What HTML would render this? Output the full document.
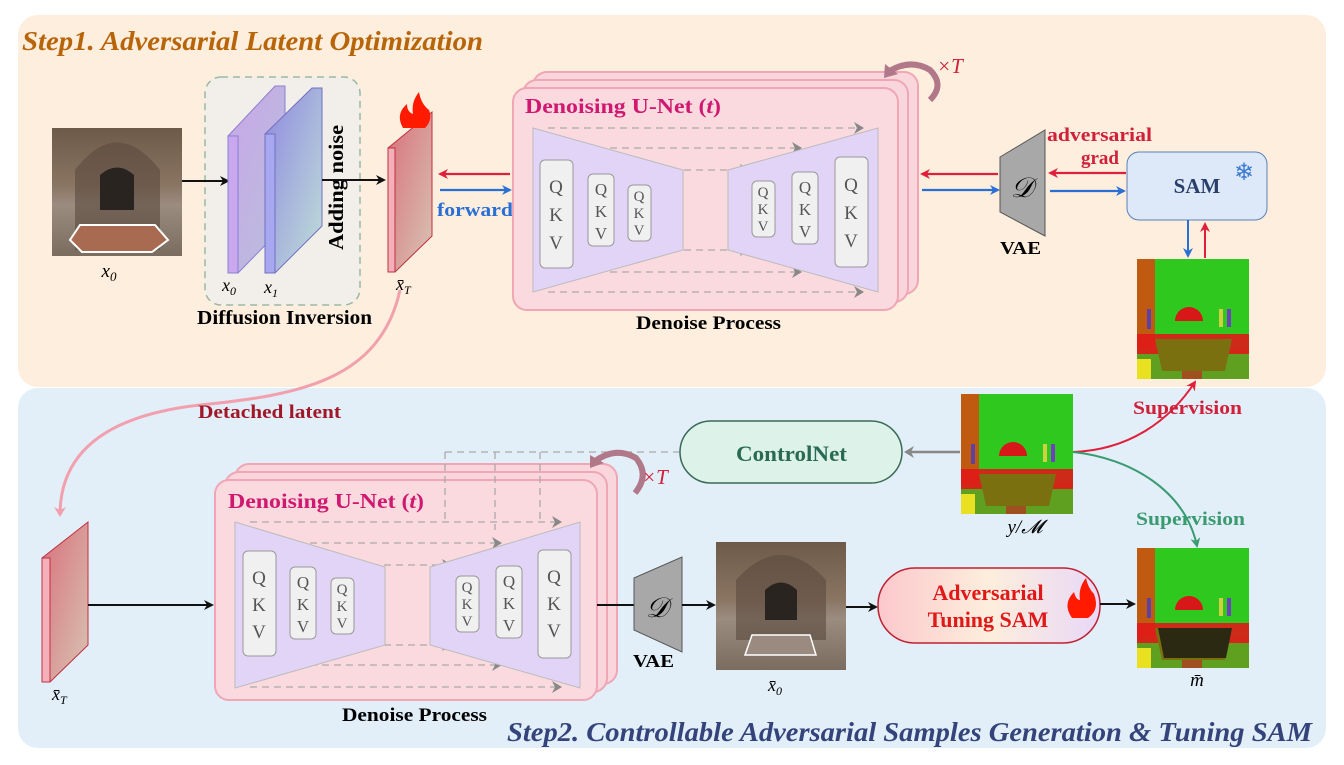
<!DOCTYPE html>
<html><head><meta charset="utf-8"><style>
body{margin:0;background:#fff}
svg{display:block;font-family:"Liberation Serif",serif}
</style></head><body>
<svg width="1344" height="765" viewBox="0 0 1344 765" xmlns="http://www.w3.org/2000/svg">
<defs>
<marker id="ak" markerWidth="10" markerHeight="10" refX="8" refY="5" orient="auto" markerUnits="userSpaceOnUse"><path d="M0,0 L10,5 L0,10 L3,5z" fill="#111"/></marker>
<marker id="ar" markerWidth="10" markerHeight="10" refX="8" refY="5" orient="auto" markerUnits="userSpaceOnUse"><path d="M0,0 L10,5 L0,10 L3,5z" fill="#e0203a"/></marker>
<marker id="ab" markerWidth="10" markerHeight="10" refX="8" refY="5" orient="auto" markerUnits="userSpaceOnUse"><path d="M0,0 L10,5 L0,10 L3,5z" fill="#2a6fd6"/></marker>
<marker id="ag" markerWidth="10" markerHeight="10" refX="8" refY="5" orient="auto" markerUnits="userSpaceOnUse"><path d="M0,0 L10,5 L0,10 L3,5z" fill="#3a9a70"/></marker>
<marker id="agr" markerWidth="12" markerHeight="12" refX="8" refY="6" orient="auto" markerUnits="userSpaceOnUse"><path d="M0,0 L10,6 L0,12 L3,6z" fill="#888"/></marker>
<marker id="ap" markerWidth="12" markerHeight="12" refX="8" refY="6" orient="auto" markerUnits="userSpaceOnUse"><path d="M0,0 L10,6 L0,12 L3,6z" fill="#f2a0ae"/></marker>
<linearGradient id="photo" x1="0" y1="0" x2="0" y2="1"><stop offset="0" stop-color="#6e5a48"/><stop offset=".45" stop-color="#8a7563"/><stop offset=".6" stop-color="#9b8c80"/><stop offset="1" stop-color="#7b6c60"/></linearGradient>
<linearGradient id="red" x1="0" y1="0" x2="1" y2="1"><stop offset="0" stop-color="#d9707a"/><stop offset="1" stop-color="#d8c4b4"/></linearGradient>
<linearGradient id="purp" x1="0" y1="0" x2="1" y2="1"><stop offset="0" stop-color="#c9a6e8"/><stop offset="1" stop-color="#b8c0dc"/></linearGradient>
<linearGradient id="blu" x1="0" y1="0" x2="1" y2="1"><stop offset="0" stop-color="#8f88e0"/><stop offset="1" stop-color="#bfe0d8"/></linearGradient>
<linearGradient id="adv" x1="0" y1="0" x2="1" y2="0"><stop offset="0" stop-color="#fcc8cc"/><stop offset=".5" stop-color="#fdeedc"/><stop offset="1" stop-color="#e8d8f8"/></linearGradient>
<g id="seg">
<rect width="112" height="120" fill="#2ec81e"/>
<rect width="18" height="120" fill="#c05a10"/>
<rect x="0" y="90" width="112" height="30" fill="#60a020"/>
<path d="M0,75 L112,75 L112,95 L0,95z" fill="#e01818" opacity=".9"/>
<path d="M18,80 L95,80 L88,112 L25,112z" fill="#7a7010"/>
<rect x="45" y="112" width="20" height="8" fill="#a05020"/>
<path d="M38,62 a14,14 0 0 1 28,0z" fill="#d81818"/>
<rect x="10" y="50" width="4" height="20" fill="#6040a0"/><rect x="82" y="50" width="4" height="18" fill="#d0d040"/><rect x="90" y="50" width="4" height="18" fill="#7040c0"/>
<rect x="0" y="100" width="14" height="20" fill="#e8e020"/>
</g>
</defs>

<rect x="18" y="15" width="1308" height="372" rx="20" fill="#fdeedd"/>
<rect x="18" y="388" width="1308" height="360" rx="20" fill="#e2eff9"/>

<text x="22" y="50" font-size="27" font-style="italic" font-weight="bold" fill="#b8650a" textLength="461" lengthAdjust="spacingAndGlyphs">Step1. Adversarial Latent Optimization</text>
<text x="507" y="741" font-size="27" font-style="italic" font-weight="bold" fill="#34447a" textLength="805" lengthAdjust="spacingAndGlyphs">Step2. Controllable Adversarial Samples Generation &amp; Tuning SAM</text>

<!-- x0 photo -->
<rect x="52" y="128" width="130" height="128" fill="url(#photo)"/>
<path d="M75,250 L75,170 Q117,115 160,170 L160,250z" fill="#5a4a3e" opacity=".6"/>
<path d="M100,210 L100,175 Q117,160 134,175 L134,210z" fill="#2a2420"/>
<path d="M80,225 L155,225 L168,240 L152,252 L82,252 L70,240z" fill="#a86a50" stroke="#fff" stroke-width="2"/>
<text x="109" y="277" font-size="19" font-style="italic" text-anchor="middle">x<tspan font-size="13" dy="4">0</tspan></text>

<!-- diffusion inversion -->
<rect x="205" y="77" width="155" height="228" rx="16" fill="#f2efea" stroke="#9ab8a4" stroke-width="1.5" stroke-dasharray="7,5"/>
<line x1="182" y1="181" x2="228" y2="181" stroke="#111" stroke-width="2" marker-end="url(#ak)"/>
<path d="M228,136 L275,86 L285,86 L285,225 L238,273 L228,273z" fill="url(#purp)" stroke="#8a80d0"/>
<rect x="228" y="136" width="10" height="137" fill="#caa8ef" stroke="#8a80d0"/>
<path d="M265,134 L312,88 L322,88 L322,226 L275,273 L265,273z" fill="url(#blu)" stroke="#7070c0"/>
<rect x="265" y="134" width="10" height="139" fill="#a8a8f0" stroke="#7070c0"/>
<text x="222" y="291" font-size="18" font-style="italic">x<tspan font-size="12" dy="4">0</tspan></text>
<text x="264" y="293" font-size="18" font-style="italic">x<tspan font-size="12" dy="4">1</tspan></text>
<text x="343" y="250" font-size="21" font-weight="bold" transform="rotate(-90 343 250)" textLength="125" lengthAdjust="spacingAndGlyphs">Adding noise</text>
<line x1="322" y1="180" x2="384" y2="180" stroke="#111" stroke-width="2" marker-end="url(#ak)"/>
<text x="197" y="324" font-size="20" font-weight="bold" textLength="175" lengthAdjust="spacingAndGlyphs">Diffusion Inversion</text>

<!-- xT top -->
<path d="M388,148 L432,112 L432,236 L395,272 L388,272z" fill="url(#red)" stroke="#c03040"/>
<rect x="388" y="148" width="7" height="124" fill="#f4b0b8" stroke="#c03040"/>
<path d="M403,128 q-8,-14 4,-24 q0,8 6,10 q-2,-12 6,-22 q2,12 10,18 q4,10 -4,18z" fill="#ff1a00"/>
<text x="396" y="290" font-size="18" font-style="italic">x̄<tspan font-size="12" dy="4">T</tspan></text>

<line x1="510" y1="174" x2="440" y2="174" stroke="#e0203a" stroke-width="2.2" marker-end="url(#ar)"/>
<line x1="440" y1="190" x2="510" y2="190" stroke="#2a6fd6" stroke-width="2.2" marker-end="url(#ab)"/>
<text x="437" y="216" font-size="19" font-weight="bold" fill="#2a6fd6" textLength="76" lengthAdjust="spacingAndGlyphs">forward</text>

<!-- top U-Net -->
<g>
<rect x="533" y="72" width="385" height="222" rx="14" fill="#f9d6dc" stroke="#f0a6b4" stroke-width="2"/>
<rect x="523" y="80" width="385" height="222" rx="14" fill="#f9d6dc" stroke="#f0a6b4" stroke-width="2"/>
<rect x="513" y="88" width="385" height="222" rx="14" fill="#fadadf" stroke="#f0a6b4" stroke-width="2"/>
<text x="525" y="113" font-size="21" font-weight="bold" fill="#d01870" textLength="196" lengthAdjust="spacingAndGlyphs">Denoising U-Net (<tspan font-style="italic">t</tspan>)</text>
<g stroke="#aaa" stroke-width="1.3" stroke-dasharray="7,5" fill="none">
<line x1="548" y1="128" x2="862" y2="128" marker-end="url(#agr)"/>
<line x1="610" y1="148" x2="800" y2="148" marker-end="url(#agr)"/>
<line x1="660" y1="170" x2="748" y2="170" marker-end="url(#agr)"/>
<line x1="660" y1="250" x2="748" y2="250" marker-end="url(#agr)"/>
<line x1="610" y1="272" x2="800" y2="272" marker-end="url(#agr)"/>
<line x1="548" y1="292" x2="862" y2="292" marker-end="url(#agr)"/>
</g>
<path d="M533,128 L683,170 L683,250 L533,292z" fill="#e2d4f6" stroke="#bbb"/>
<path d="M728,170 L878,128 L878,292 L728,250z" fill="#e2d4f6" stroke="#bbb"/>
<g fill="#f0f0f0" stroke="#999">
<rect x="540" y="160" width="33" height="108" rx="5"/>
<rect x="588" y="174" width="26" height="72" rx="5"/>
<rect x="628" y="185" width="23" height="56" rx="5"/>
<rect x="752" y="181" width="23" height="56" rx="5"/>
<rect x="792" y="172" width="26" height="72" rx="5"/>
<rect x="835" y="157" width="33" height="110" rx="5"/>
</g>
<g fill="#555" text-anchor="middle">
<g font-size="19"><text x="556" y="193">Q</text><text x="556" y="221">K</text><text x="556" y="249">V</text></g>
<g font-size="17"><text x="601" y="195">Q</text><text x="601" y="217">K</text><text x="601" y="239">V</text></g>
<g font-size="15"><text x="639" y="201">Q</text><text x="639" y="218">K</text><text x="639" y="235">V</text></g>
<g font-size="15"><text x="763" y="197">Q</text><text x="763" y="214">K</text><text x="763" y="231">V</text></g>
<g font-size="17"><text x="805" y="193">Q</text><text x="805" y="215">K</text><text x="805" y="237">V</text></g>
<g font-size="19"><text x="851" y="191">Q</text><text x="851" y="219">K</text><text x="851" y="247">V</text></g>
</g>
</g>
<text x="636" y="329" font-size="19" font-weight="bold" textLength="145" lengthAdjust="spacingAndGlyphs">Denoise Process</text>
<path d="M888,72 Q910,58 930,70 Q945,85 930,100" fill="none" stroke="#b07888" stroke-width="6"/>
<path d="M885,64 L898,74 L884,78z" fill="#b07888"/>
<text x="937" y="73" font-size="21" font-style="italic" fill="#d0203a">×T</text>

<!-- VAE top -->
<line x1="998" y1="174" x2="922" y2="174" stroke="#e0203a" stroke-width="2.2" marker-end="url(#ar)"/>
<line x1="922" y1="190" x2="998" y2="190" stroke="#2a6fd6" stroke-width="2.2" marker-end="url(#ab)"/>
<path d="M1000,157 L1045,130 L1045,236 L1000,212z" fill="#a8a8a8" stroke="#555"/>
<text x="1022" y="197" font-size="28" font-style="italic" text-anchor="middle">𝒟</text>
<text x="1000" y="254" font-size="18" font-weight="bold" textLength="41" lengthAdjust="spacingAndGlyphs">VAE</text>
<line x1="1126" y1="173" x2="1050" y2="173" stroke="#e0203a" stroke-width="2.2" marker-end="url(#ar)"/>
<line x1="1050" y1="191" x2="1124" y2="191" stroke="#2a6fd6" stroke-width="2.2" marker-end="url(#ab)"/>
<text x="1047" y="141" font-size="19" font-weight="bold" fill="#d0203a" textLength="105" lengthAdjust="spacingAndGlyphs">adversarial</text>
<text x="1100" y="164" font-size="19" font-weight="bold" fill="#d0203a" text-anchor="middle">grad</text>
<rect x="1127" y="152" width="140" height="68" rx="12" fill="#dde8f8" stroke="#5a80b8"/>
<text x="1197" y="193" font-size="21" font-weight="bold" fill="#2a3e6a" text-anchor="middle">SAM</text>
<text x="1244" y="180" font-size="24" fill="#3a7ad0" text-anchor="middle">❄</text>
<line x1="1188" y1="220" x2="1188" y2="256" stroke="#2a6fd6" stroke-width="2" marker-end="url(#ab)"/>
<line x1="1205" y1="258" x2="1205" y2="224" stroke="#e0203a" stroke-width="2" marker-end="url(#ar)"/>
<use href="#seg" x="1137" y="259"/>

<!-- detached latent -->
<path d="M400,290 C380,380 300,395 200,405 C110,415 60,450 60,515" fill="none" stroke="#f2a0ae" stroke-width="3" marker-end="url(#ap)"/>
<text x="198" y="418" font-size="19" font-weight="bold" fill="#a01828" textLength="143" lengthAdjust="spacingAndGlyphs">Detached latent</text>

<!-- xT bottom -->
<path d="M42,558 L88,522 L88,645 L50,682 L42,682z" fill="url(#red)" stroke="#c03040"/>
<rect x="42" y="558" width="8" height="124" fill="#f4b0b8" stroke="#c03040"/>
<text x="52" y="700" font-size="18" font-style="italic">x̄<tspan font-size="12" dy="4">T</tspan></text>
<line x1="88" y1="605" x2="212" y2="605" stroke="#111" stroke-width="2" marker-end="url(#ak)"/>

<!-- bottom U-Net -->
<g>
<rect x="235" y="464" width="382" height="220" rx="14" fill="#f9d6dc" stroke="#f0a6b4" stroke-width="2"/>
<rect x="225" y="472" width="382" height="220" rx="14" fill="#f9d6dc" stroke="#f0a6b4" stroke-width="2"/>
<rect x="215" y="480" width="382" height="220" rx="14" fill="#fadadf" stroke="#f0a6b4" stroke-width="2"/>
<text x="228" y="508" font-size="21" font-weight="bold" fill="#d01870" textLength="196" lengthAdjust="spacingAndGlyphs">Denoising U-Net (<tspan font-style="italic">t</tspan>)</text>
<g stroke="#aaa" stroke-width="1.3" stroke-dasharray="7,5" fill="none">
<line x1="445" y1="452" x2="680" y2="452"/>
<line x1="445" y1="452" x2="445" y2="520"/>
<line x1="495" y1="452" x2="495" y2="530"/>
<line x1="540" y1="452" x2="540" y2="520"/>
<line x1="250" y1="522" x2="560" y2="522" marker-end="url(#agr)"/>
<line x1="310" y1="543" x2="500" y2="543" marker-end="url(#agr)"/>
<line x1="360" y1="565" x2="450" y2="565" marker-end="url(#agr)"/>
<line x1="360" y1="645" x2="450" y2="645" marker-end="url(#agr)"/>
<line x1="310" y1="665" x2="500" y2="665" marker-end="url(#agr)"/>
<line x1="250" y1="687" x2="560" y2="687" marker-end="url(#agr)"/>
</g>
<path d="M235,522 L385,567 L385,645 L235,688z" fill="#e2d4f6" stroke="#bbb"/>
<path d="M430,567 L580,522 L580,688 L430,645z" fill="#e2d4f6" stroke="#bbb"/>
<g fill="#f0f0f0" stroke="#999">
<rect x="243" y="551" width="33" height="105" rx="5"/>
<rect x="290" y="567" width="26" height="72" rx="5"/>
<rect x="331" y="578" width="23" height="56" rx="5"/>
<rect x="456" y="576" width="23" height="56" rx="5"/>
<rect x="496" y="566" width="26" height="72" rx="5"/>
<rect x="538" y="550" width="33" height="108" rx="5"/>
</g>
<g fill="#555" text-anchor="middle">
<g font-size="19"><text x="259" y="584">Q</text><text x="259" y="611">K</text><text x="259" y="638">V</text></g>
<g font-size="17"><text x="303" y="588">Q</text><text x="303" y="610">K</text><text x="303" y="632">V</text></g>
<g font-size="15"><text x="342" y="594">Q</text><text x="342" y="611">K</text><text x="342" y="628">V</text></g>
<g font-size="15"><text x="467" y="592">Q</text><text x="467" y="609">K</text><text x="467" y="626">V</text></g>
<g font-size="17"><text x="509" y="587">Q</text><text x="509" y="609">K</text><text x="509" y="631">V</text></g>
<g font-size="19"><text x="554" y="583">Q</text><text x="554" y="610">K</text><text x="554" y="637">V</text></g>
</g>
</g>
<text x="342" y="721" font-size="19" font-weight="bold" textLength="145" lengthAdjust="spacingAndGlyphs">Denoise Process</text>
<path d="M594,462 Q615,446 636,458 Q650,475 635,493" fill="none" stroke="#b07888" stroke-width="6"/>
<path d="M590,455 L604,463 L590,468z" fill="#b07888"/>
<text x="642" y="484" font-size="21" font-style="italic" fill="#d0203a">×T</text>

<!-- ControlNet -->
<rect x="680" y="421" width="222" height="62" rx="31" fill="#ddf3ea" stroke="#3a6a55" stroke-width="1.5"/>
<text x="736" y="461" font-size="22" font-weight="bold" fill="#2a6a55" textLength="111" lengthAdjust="spacingAndGlyphs">ControlNet</text>
<line x1="960" y1="452" x2="906" y2="452" stroke="#888" stroke-width="2.5" marker-end="url(#agr)"/>
<use href="#seg" x="961" y="394"/>
<text x="1025" y="533" font-size="19" font-style="italic" text-anchor="middle">y/𝓜</text>
<path d="M1073,452 C1130,450 1170,420 1195,382" fill="none" stroke="#e0203a" stroke-width="2" marker-end="url(#ar)"/>
<text x="1133" y="414" font-size="19" font-weight="bold" fill="#d0203a" textLength="109" lengthAdjust="spacingAndGlyphs">Supervision</text>
<path d="M1073,452 C1130,458 1185,490 1197,546" fill="none" stroke="#3a9a70" stroke-width="2" marker-end="url(#ag)"/>
<text x="1136" y="525" font-size="19" font-weight="bold" fill="#3a9a70" textLength="109" lengthAdjust="spacingAndGlyphs">Supervision</text>

<!-- VAE bottom -->
<line x1="597" y1="605" x2="634" y2="605" stroke="#111" stroke-width="2"/>
<path d="M634,578 L682,557 L682,652 L634,630z" fill="#a8a8a8" stroke="#555"/>
<text x="657" y="617" font-size="28" font-style="italic" text-anchor="middle">𝒟</text>
<text x="633" y="667" font-size="18" font-weight="bold" textLength="41" lengthAdjust="spacingAndGlyphs">VAE</text>
<line x1="682" y1="605" x2="714" y2="605" stroke="#111" stroke-width="2" marker-end="url(#ak)"/>

<!-- x0 bar photo -->
<rect x="716" y="542" width="130" height="128" fill="url(#photo)"/>
<path d="M736,640 L736,580 Q781,530 826,580 L826,640z" fill="#5a4a3e" opacity=".6"/>
<path d="M765,620 L765,590 Q781,575 797,590 L797,620z" fill="#2a2420"/>
<path d="M752,635 L810,635 L816,655 L745,655z" fill="#9a8a80" stroke="#fff" stroke-width="1.5"/>
<text x="768" y="691" font-size="18" font-style="italic">x̄<tspan font-size="12" dy="4">0</tspan></text>
<line x1="846" y1="607" x2="876" y2="607" stroke="#111" stroke-width="2" marker-end="url(#ak)"/>

<!-- Adversarial tuning SAM -->
<rect x="878" y="568" width="222" height="75" rx="37" fill="url(#adv)" stroke="#c02030" stroke-width="1.5"/>
<text x="988" y="600" font-size="22" font-weight="bold" fill="#e01818" text-anchor="middle">Adversarial</text>
<text x="988" y="627" font-size="22" font-weight="bold" fill="#e01818" text-anchor="middle">Tuning SAM</text>
<path d="M1072,618 q-10,-14 2,-26 q2,8 6,8 q-2,-12 6,-22 q2,10 8,16 q6,16 -6,24z" fill="#ff1a00"/>
<line x1="1100" y1="604" x2="1134" y2="604" stroke="#111" stroke-width="2" marker-end="url(#ak)"/>
<use href="#seg" x="1137" y="548"/>
<path d="M1158,628 L1232,628 L1226,658 L1164,658z" fill="#111" opacity=".75"/>
<text x="1197" y="686" font-size="19" font-style="italic" text-anchor="middle">m̄</text>
</svg>
</body></html>
